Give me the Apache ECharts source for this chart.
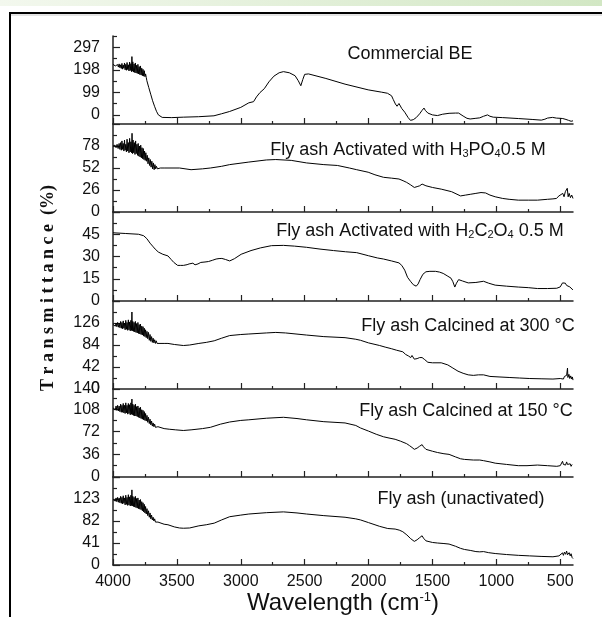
<!DOCTYPE html>
<html>
<head>
<meta charset="utf-8">
<script src="https://cdn.jsdelivr.net/npm/echarts@6/dist/echarts.min.js"></script>
<style>
  html, body { margin: 0; padding: 0; background: #fff; }
  #chart { width: 602px; height: 617px; }
</style>
</head>
<body>
<div id="chart"></div>
<script>
// wavenumber ticks (cm-1)
const WN_MAJOR = [4000, 3500, 3000, 2500, 2000, 1500, 1000, 500];
const WN_MINOR = [3750, 3250, 2750, 2250, 1750, 1250, 750];

// panel captions, top to bottom
const panelNames = [
  "Commercial BE",
  "Fly ash Activated with H{s|3}PO{s|4}0.5 M",
  "Fly ash Activated with H{s|2}C{s|2}O{s|4} 0.5 M",
  "Fly ash Calcined at 300 °C",
  "Fly ash Calcined at 150 °C",
  "Fly ash (unactivated)"
];

// y scales per panel
const yMin = [-40, 0, 0, 0, 0, 0];
const yMax = [346.5, 104, 60, 168, 140, 164];
const yStep = [99, 26, 15, 42, 36, 41];
const yLabels = [
  [0, 99, 198, 297],
  [0, 26, 52, 78],
  [0, 15, 30, 45],
  [0, 42, 84, 126],
  [0, 36, 72, 108, 140],
  [0, 41, 82, 123]
];

// spectra [wavenumber, transmittance]
const beSpectrum = [
  [4000,222],[3994,218],[3988,224],[3982,215],[3976,222],[3970,213],[3964,221],[3958,210],[3952,224],[3946,207],
  [3940,220],[3935,204],[3930,226],[3925,201],[3920,219],[3915,205],[3910,228],[3905,198],[3900,222],[3895,196],
  [3890,230],[3885,199],[3880,220],[3875,193],[3870,232],[3865,195],[3860,225],[3855,190],[3852,256],[3849,192],
  [3845,233],[3840,188],[3835,224],[3830,186],[3825,228],[3820,184],[3815,218],[3810,182],[3805,222],[3800,180],
  [3795,212],[3790,177],[3785,215],[3780,175],[3775,205],[3770,172],[3765,200],[3760,170],[3755,194],[3750,168],
  [3745,180],[3740,165],[3735,150],[3720,120],[3705,91],[3690,62],
  [3675,38],[3660,16],[3645,0],[3630,-8],[3615,-11],[3540,-12],[3450,-10],[3330,-8],[3210,-4],[3150,5],
  [3087,15],[3000,33],[2937,53],[2900,58],[2890,62],[2877,79],[2850,98],[2816,115],[2780,145],[2741,170],
  [2700,185],[2666,190],[2620,185],[2575,172],[2550,150],[2530,128],[2515,155],[2500,178],[2470,180],[2334,160],
  [2184,135],[2003,110],[1900,100],[1852,95],[1820,84],[1807,68],[1790,48],[1777,38],[1762,50],[1740,28],
  [1717,12],[1690,-12],[1672,-24],[1650,-21],[1627,-12],[1600,5],[1581,20],[1570,26],[1566,30],[1556,20],
  [1536,8],[1500,0],[1461,-3],[1420,3],[1370,7],[1320,8],[1295,8],[1260,-5],[1230,-15],[1205,-18],
  [1160,-15],[1130,-13],[1100,-6],[1069,0],[1050,-6],[1024,-10],[950,-12],[828,-16],[720,-20],[648,-23],
  [620,-19],[600,-14],[587,-12],[560,-11],[530,-14],[500,-15],[480,-16],[467,-12],[455,-20],[445,-14],
  [435,-24],[425,-18],[415,-28],[405,-22],[400,-26]
];

const h3po4Spectrum = [
  [4000,78],[3992,77],[3984,79],[3976,76],[3968,80],[3960,75],[3952,81],[3946,74],[3940,82],[3935,73],
  [3930,84],[3925,74],[3920,81],[3915,72],[3910,85],[3905,73],[3900,80],[3895,71],[3890,86],[3885,72],
  [3880,82],[3875,70],[3870,87],[3865,71],[3860,83],[3855,70],[3851,93],[3847,69],[3843,85],[3838,70],
  [3833,82],[3828,68],[3823,84],[3818,69],[3813,80],[3808,67],[3803,81],[3798,66],[3793,78],[3788,65],
  [3783,79],[3778,64],[3773,76],[3768,63],[3763,75],[3758,62],[3753,72],[3748,61],[3743,70],[3738,60],
  [3732,67],[3726,57],[3720,64],[3714,55],[3708,62],[3702,53],[3696,60],[3690,51],[3684,58],[3678,50],
  [3672,56],[3666,51],[3660,54],[3652,51],[3645,53],[3640,52],[3630,52],[3600,52],
  [3479,52],[3389,50],[3300,51],[3238,52],[3150,54],[3087,56],[2937,59],[2800,61.5],[2726,62],[2605,61],
  [2485,58],[2350,56],[2244,55],[2150,52],[2093,50],[2003,47],[1950,44],[1883,41],[1820,40],[1762,39],
  [1730,37],[1702,35],[1670,32],[1642,29],[1620,30],[1600,31],[1581,33],[1570,31],[1551,31],[1500,29],
  [1431,27],[1350,24],[1280,19],[1240,20],[1200,21],[1160,22],[1120,23],[1084,22.5],[1050,20],[1009,18],
  [950,16],[900,15],[828,14],[750,14],[678,14],[600,15],[557,15.5],[530,16],[510,19],[497,20],
  [480,22],[470,18],[460,24],[452,22],[445,28],[438,18],[430,22],[420,17],[410,20],[400,16]
];

const h2c2o4Spectrum = [
  [4000,46],[3900,45.5],[3800,45],[3760,44],[3735,42],[3710,39],[3690,37],[3670,35],[3645,33],[3610,31.5],
  [3570,30.4],[3545,28],[3524,26],[3494,24],[3470,24],[3449,24],[3420,24.5],[3404,25],[3390,26],[3375,25.5],
  [3358,24.4],[3335,25],[3313,26],[3280,26.3],[3253,26.6],[3220,27.5],[3193,28.3],[3170,28.6],[3148,28.7],[3120,28],
  [3087,27],[3050,28.5],[2997,31.5],[2920,34],[2846,35.8],[2760,37.3],[2666,37.5],[2580,37],[2485,36.2],[2380,35],
  [2274,34],[2180,33.2],[2093,32.6],[2000,30.5],[1930,29],[1883,28.3],[1820,27],[1762,25.7],[1740,24],[1717,20.8],
  [1695,16],[1672,13.3],[1650,11],[1627,10],[1612,11.5],[1597,14.4],[1575,18],[1551,19.7],[1520,20],[1476,20],
  [1445,19.5],[1416,18.6],[1385,17],[1355,15.4],[1340,13],[1325,9.4],[1312,12],[1295,14.4],[1265,13.5],[1220,12.2],
  [1160,12.5],[1100,13.3],[1060,12],[1009,10.7],[920,10],[828,9.4],[750,9],[678,8.4],[600,8.4],[527,8.6],
  [500,9.5],[482,12.2],[470,11],[460,12],[450,10.5],[437,10.7],[425,9.5],[415,9],[407,8],[400,7.5]
];

const calc300Spectrum = [
  [4000,123],[3994,121],[3988,125],[3982,120],[3976,126],[3970,119],[3964,127],[3958,118],[3952,126],[3946,117],
  [3940,129],[3935,116],[3930,127],[3925,115],[3920,130],[3915,116],[3910,126],[3905,113],[3900,131],[3895,114],
  [3890,127],[3885,112],[3880,132],[3875,113],[3870,128],[3865,111],[3860,131],[3855,112],[3852,147],[3849,111],
  [3845,129],[3840,110],[3835,127],[3830,109],[3825,129],[3820,108],[3815,125],[3810,107],[3805,127],[3800,106],
  [3795,123],[3790,105],[3785,124],[3780,104],[3775,120],[3770,103],[3765,119],[3760,101],[3755,116],[3750,100],
  [3745,113],[3740,98],[3734,110],[3728,96],[3722,108],[3716,93],[3710,104],[3704,91],[3698,100],[3692,89],
  [3686,97],[3680,88],[3674,94],[3668,87],[3662,92],[3655,87],[3648,90],[3640,88],[3600,87],[3570,87],
  [3520,85],[3449,83],[3400,84],[3328,87],[3270,89],[3208,92],[3150,97],[3087,102],[3000,104],[2937,105],
  [2800,107],[2726,108],[2650,107],[2485,103],[2350,100],[2184,98],[2100,95],[2063,93],[2000,88],[1913,83],
  [1870,80],[1822,77],[1780,74],[1732,71],[1710,66],[1687,63],[1670,60],[1660,64],[1642,57],[1620,58],
  [1600,60],[1581,60],[1570,62],[1560,56],[1536,51],[1500,50],[1431,50],[1380,46],[1340,40],[1300,34],
  [1260,30],[1220,27],[1180,26],[1140,27],[1100,27],[1050,24],[979,23],[900,22],[820,21],[738,20],
  [650,19.5],[557,19],[500,20],[485,23],[475,19],[467,24],[458,21],[450,26],[443,40],[440,22],
  [432,28],[425,20],[418,25],[410,19],[405,23],[400,17]
];

const calc150Spectrum = [
  [4000,110],[3994,108],[3988,112],[3982,107],[3976,113],[3970,106],[3964,114],[3958,105],[3952,113],[3946,104],
  [3940,116],[3935,103],[3930,114],[3925,103],[3920,117],[3915,102],[3910,114],[3905,101],[3900,118],[3895,102],
  [3890,114],[3885,100],[3880,117],[3875,101],[3870,115],[3865,99],[3860,118],[3855,100],[3852,124],[3849,99],
  [3845,116],[3840,98],[3835,114],[3830,97],[3825,116],[3820,97],[3815,112],[3810,96],[3805,113],[3800,95],
  [3795,110],[3790,94],[3785,111],[3780,93],[3775,107],[3770,92],[3765,106],[3760,91],[3755,104],[3750,90],
  [3745,101],[3740,89],[3734,98],[3728,87],[3722,95],[3716,85],[3710,92],[3704,83],[3698,89],[3692,81],
  [3686,86],[3680,80],[3674,84],[3668,79],[3662,82],[3655,78],[3648,80],[3640,79],[3600,77],[3560,76],
  [3509,75],[3450,74],[3389,75],[3300,77],[3238,79],[3160,84],[3087,87.5],[3000,90],[2937,91],[2800,93.5],
  [2666,95],[2560,93],[2485,91],[2350,88],[2184,86],[2100,82],[2063,78],[2000,73],[1940,68],[1883,64],
  [1840,62],[1792,60],[1750,57],[1702,53],[1680,50],[1660,47],[1642,44],[1620,46],[1600,49],[1581,51.5],
  [1570,48],[1551,44],[1500,41],[1461,39],[1410,37],[1370,36],[1320,32],[1280,29],[1250,28],[1180,27],
  [1130,27],[1100,26],[1050,24],[1009,22],[920,20],[828,18],[760,18],[678,19],[600,18],[527,17],
  [500,18],[490,21],[482,25],[475,20],[465,23],[458,19],[450,24],[443,20],[437,22],[430,18],
  [422,21],[415,17],[407,20],[400,17]
];

const flyAshSpectrum = [
  [4000,122],[3994,120],[3988,124],[3982,119],[3976,125],[3970,118],[3964,126],[3958,117],[3952,125],[3946,116],
  [3940,128],[3935,115],[3930,126],[3925,114],[3920,129],[3915,115],[3910,125],[3905,112],[3900,130],[3895,113],
  [3890,126],[3885,111],[3880,131],[3875,112],[3870,127],[3865,110],[3860,130],[3855,111],[3852,140],[3849,110],
  [3845,128],[3840,109],[3835,126],[3830,108],[3825,128],[3820,107],[3815,124],[3810,106],[3805,125],[3800,105],
  [3795,121],[3790,104],[3785,122],[3780,103],[3775,118],[3770,101],[3765,116],[3760,99],[3755,113],[3750,97],
  [3745,109],[3740,95],[3734,105],[3728,92],[3722,101],[3716,89],[3710,97],[3704,86],[3698,93],[3692,84],
  [3686,89],[3680,82],[3674,86],[3668,80],[3662,82],[3655,79],[3648,80],[3640,78],[3600,76],[3570,75],
  [3520,71],[3480,69],[3449,68.5],[3400,69],[3328,73],[3270,75],[3208,78],[3150,84],[3087,90],[3000,93],
  [2937,95],[2800,97.5],[2666,99],[2560,97],[2485,95],[2350,92],[2184,89],[2100,86],[2063,84],[2000,79],
  [1913,72],[1850,68],[1792,67],[1760,65],[1732,62],[1700,56],[1670,49],[1642,44],[1620,47],[1600,51],
  [1581,54.5],[1570,50],[1551,45],[1536,44],[1500,42],[1461,41],[1410,40],[1370,39],[1320,35],[1280,31],
  [1250,29],[1200,27],[1160,25],[1130,24.5],[1100,25],[1060,23],[1009,21.4],[920,19.5],[828,18],[740,17],
  [650,16],[557,15.3],[510,17],[495,19],[482,22.6],[475,18],[467,24],[458,20],[450,26],[443,19],
  [437,19.6],[430,23],[422,17],[415,21],[407,14],[400,12]
];

const spectra = [beSpectrum, h3po4Spectrum, h2c2o4Spectrum, calc300Spectrum, calc150Spectrum, flyAshSpectrum];

// layout (px)
const PANEL_TOPS = [36, 124, 212, 301, 389, 477];
const PANEL_BOTTOM = 565;
const CAPTION_X = [410, 408, 420, 468, 466, 461];
const CAPTION_Y = [54, 150, 231, 326, 411, 499];

const FONT = '"Liberation Sans", Arial, sans-serif';
const INK = "#111";
const AXIS = "#222";

function yTicks(min, max, step) {
  const major = [], minor = [];
  for (let v = Math.ceil(min / step) * step; v <= max + 1e-6; v += step) major.push(+v.toFixed(3));
  for (let v = Math.ceil(min / step) * step - step / 2; v <= max + 1e-6; v += step) {
    if (v >= min - 1e-6) minor.push(+v.toFixed(3));
  }
  return { major, minor };
}

const chart = echarts.init(document.getElementById("chart"));

const grids = [], xAxes = [], yAxes = [], series = [];

spectra.forEach((data, i) => {
  const top = PANEL_TOPS[i];
  const bottom = i < 5 ? PANEL_TOPS[i + 1] : PANEL_BOTTOM;
  grids.push({ left: 113, right: 29, top: top, height: bottom - top });

  const last = i === spectra.length - 1;
  const xBase = {
    type: "value", gridIndex: i, min: 400, max: 4000, inverse: true,
    position: "bottom", splitLine: { show: false }
  };
  xAxes.push(Object.assign({}, xBase, {
    axisLine: { show: true, onZero: false, lineStyle: { color: AXIS, width: 1.5 } },
    axisTick: { show: true, inside: true, length: 6, customValues: WN_MAJOR, lineStyle: { color: AXIS, width: 1.2 } },
    axisLabel: {
      show: last, customValues: WN_MAJOR, margin: 9,
      color: INK, fontSize: 16, fontFamily: FONT,
      formatter: v => String(v)
    },
    name: last ? "Wavelength (cm{sup|-1})" : "",
    nameLocation: "middle",
    nameGap: 24,
    nameTextStyle: {
      color: INK, fontSize: 24, fontFamily: FONT,
      rich: { sup: { fontSize: 13, fontFamily: FONT, color: INK, padding: [0, 0, 12, 0] } }
    }
  }));
  xAxes.push(Object.assign({}, xBase, {
    axisLine: { show: false, onZero: false },
    axisTick: { show: true, inside: true, length: 3, customValues: WN_MINOR, lineStyle: { color: AXIS, width: 1.2 } },
    axisLabel: { show: false }
  }));

  const t = yTicks(yMin[i], yMax[i], yStep[i]);
  const yBase = {
    type: "value", gridIndex: i, min: yMin[i], max: yMax[i],
    position: "left", splitLine: { show: false }
  };
  yAxes.push(Object.assign({}, yBase, {
    axisLine: { show: true, onZero: false, lineStyle: { color: AXIS, width: 1.5 } },
    axisTick: { show: true, inside: true, length: 7, customValues: t.major, lineStyle: { color: AXIS, width: 1.2 } },
    axisLabel: {
      customValues: yLabels[i], margin: 13,
      color: INK, fontSize: 16, fontFamily: FONT
    }
  }));
  yAxes.push(Object.assign({}, yBase, {
    axisLine: { show: false, onZero: false },
    axisTick: { show: true, inside: true, length: 4, customValues: t.minor, lineStyle: { color: AXIS, width: 1.2 } },
    axisLabel: { show: false }
  }));

  series.push({
    type: "line", xAxisIndex: i * 2, yAxisIndex: i * 2, data: data,
    showSymbol: false, symbol: "none", silent: true,
    lineStyle: { color: "#000", width: 1 }
  });
});

const captions = panelNames.map((name, i) => ({
  type: "text", x: CAPTION_X[i], y: CAPTION_Y[i], z: 10,
  style: {
    text: name, fill: INK, fontSize: 18, fontFamily: FONT,
    align: "center", verticalAlign: "middle",
    rich: { s: { fontSize: 11, fontFamily: FONT, fill: INK, padding: [8, 0, 0, 0] } }
  }
}));

const option = {
  animation: false,
  backgroundColor: "#fff",
  grid: grids,
  xAxis: xAxes,
  yAxis: yAxes,
  series: series,
  graphic: [
    {
      type: "rect", shape: { x: 0, y: 0, width: 602, height: 6 }, silent: true,
      style: {
        fill: new echarts.graphic.LinearGradient(0, 0, 1, 0, [
          { offset: 0, color: "#f3f8ee" }, { offset: 1, color: "#d2e7c4" }
        ])
      }
    },
    { type: "line", shape: { x1: 9, y1: 13, x2: 602, y2: 13 }, style: { stroke: "#000", lineWidth: 2 }, silent: true },
    { type: "line", shape: { x1: 11, y1: 15, x2: 602, y2: 15 }, style: { stroke: "#c8c8c8", lineWidth: 1 }, silent: true },
    { type: "line", shape: { x1: 10, y1: 12, x2: 10, y2: 617 }, style: { stroke: "#000", lineWidth: 2 }, silent: true },
    {
      type: "text", x: 48, y: 288, rotation: Math.PI / 2, z: 10,
      style: {
        text: "T r a n s m i t t a n c e  (%)", fill: INK,
        fontSize: 18, fontWeight: "bold", fontFamily: '"Liberation Serif", "Times New Roman", serif',
        align: "center", verticalAlign: "middle"
      }
    }
  ].concat(captions)
};

chart.setOption(option);
window.addEventListener("resize", () => chart.resize());
</script>
</body>
</html>
